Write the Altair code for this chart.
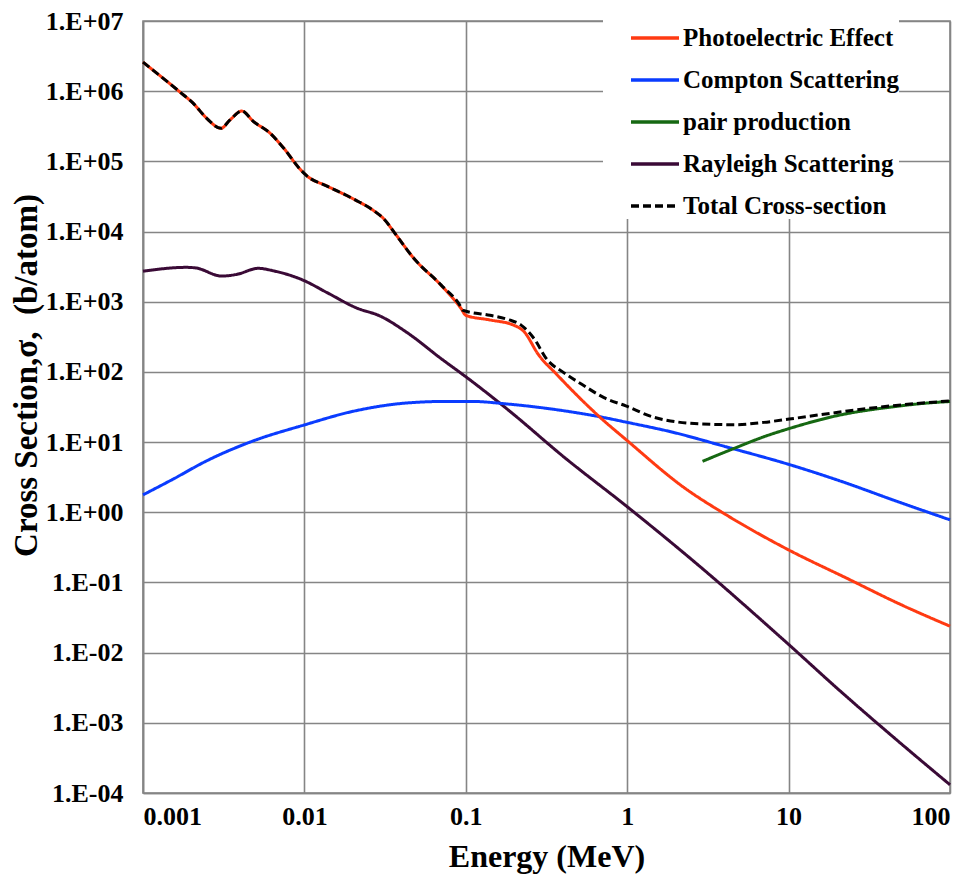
import altair as alt
import pandas as pd

SERIES = ["Photoelectric Effect", "Compton Scattering", "pair production",
          "Rayleigh Scattering", "Total Cross-section"]
COLORS = ["#ff3a12", "#0a3cff", "#166812", "#3a0a36", "#000000"]

photo_E = [0.001, 0.00169, 0.00205, 0.00248, 0.00304, 0.00346, 0.00409, 0.00484,
           0.00614, 0.00743, 0.00944, 0.0104, 0.0138, 0.0203, 0.0270, 0.0312,
           0.0360, 0.0479, 0.0702, 0.0935, 0.1, 0.141, 0.196, 0.229, 0.282,
           0.366, 0.681, 1.0, 2.22, 4.13, 10, 22.9, 49.0, 100]
photo_S = [2.59e6, 9.77e5, 6.70e5, 4.11e5, 2.96e5, 3.89e5, 5.21e5, 3.69e5,
           2.51e5, 1.55e5, 7.66e4, 6.17e4, 4.45e4, 2.88e4, 1.97e4, 1.50e4,
           9.75e3, 4.09e3, 1.72e3, 800, 640, 550, 468, 377, 176,
           92, 22.4, 10.5, 2.30, 0.912, 0.291, 0.115, 0.049, 0.0238]

compton_E = [0.001, 0.00153, 0.00247, 0.00482, 0.00986, 0.0201, 0.0433, 0.0771,
             0.107, 0.186, 0.407, 0.681, 1.0, 1.92, 4.19, 10, 20.8, 49.0, 100]
compton_S = [1.77, 2.95, 5.38, 10.4, 17.4, 27.5, 36.1, 38.0,
             38.0, 34.7, 27.9, 22.9, 19.1, 13.8, 8.45, 4.82, 2.80, 1.38, 0.78]

pair_E = [2.93, 4.54, 7.31, 10, 19.8, 43.2, 84.7, 100]
pair_S = [5.32, 8.04, 12.3, 15.5, 23.7, 31.6, 37.0, 37.8]

rayleigh_E = [0.001, 0.00186, 0.00214, 0.00307, 0.0038, 0.00518, 0.00646, 0.00986,
              0.0138, 0.0211, 0.0295, 0.0433, 0.0697, 0.107, 0.186, 0.406, 1.0,
              2.82, 10, 20.8, 49.0, 100]
rayleigh_S = [2720, 3090, 3020, 2320, 2450, 2990, 2750, 2020,
              1350, 813, 624, 363, 157, 75.9, 27.9, 6.11, 1.20,
              0.169, 0.0131, 0.00286, 0.00052, 0.000131]

total_E = [0.001, 0.00169, 0.00205, 0.00248, 0.00304, 0.00346, 0.00409, 0.00484,
           0.00614, 0.00743, 0.00944, 0.0104, 0.0138, 0.0203, 0.0270, 0.0312,
           0.0360, 0.0479, 0.0702, 0.0935, 0.0955, 0.141, 0.186, 0.219, 0.268,
           0.313, 0.406, 0.526, 0.718, 0.98, 1.48, 2.91, 4.65, 7.03, 10.1,
           19.8, 43.2, 100]
total_S = [2.59e6, 9.77e5, 6.70e5, 4.11e5, 2.96e5, 3.89e5, 5.21e5, 3.69e5,
           2.51e5, 1.55e5, 7.66e4, 6.17e4, 4.45e4, 2.88e4, 1.97e4, 1.50e4,
           9.75e3, 4.09e3, 1.74e3, 830, 760, 640, 550, 468, 287,
           158, 97, 66, 43, 32.8, 22.4, 18.1, 17.7, 19.1, 21.3,
           26.4, 32.8, 38.6]

rows = []
for name, E, S in [(SERIES[0], photo_E, photo_S), (SERIES[1], compton_E, compton_S),
                   (SERIES[2], pair_E, pair_S), (SERIES[3], rayleigh_E, rayleigh_S),
                   (SERIES[4], total_E, total_S)]:
    for e, s in zip(E, S):
        rows.append({"series": name, "E": e, "sigma": s})
df = pd.DataFrame(rows)

FONT = "Liberation Serif"

x = alt.X("E:Q", scale=alt.Scale(type="log", domain=[0.001, 100], nice=False),
          axis=alt.Axis(title="Energy (MeV)", values=[0.001, 0.01, 0.1, 1, 10, 100],
                        labelExpr="format(datum.value, '~g')", grid=True,
                        ticks=False, labelPadding=10, titlePadding=12))
y = alt.Y("sigma:Q", scale=alt.Scale(type="log", domain=[1e-4, 1e7], nice=False),
          axis=alt.Axis(title="Cross Section,σ,\u00a0\u00a0(b/atom)",
                        values=[1e-4, 1e-3, 1e-2, 1e-1, 1, 10, 1e2, 1e3, 1e4, 1e5, 1e6, 1e7],
                        labelExpr="'1.E' + (datum.value >= 1 ? '+' : '-') + (abs(round(log(datum.value)/LN10)) < 10 ? '0' : '') + abs(round(log(datum.value)/LN10))",
                        grid=True, ticks=False, labelPadding=20, titlePadding=2,
                        titleY=354, titleFontSize=33))

color = alt.Color("series:N", scale=alt.Scale(domain=SERIES, range=COLORS),
                  legend=alt.Legend(title=None, orient="none", legendX=460, legendY=-9,
                                    fillColor="white", padding=0, symbolType="stroke",
                                    symbolSize=2304, symbolStrokeWidth=3.5,
                                    symbolOffset=26,
                                    labelFont=FONT, labelFontWeight="bold",
                                    labelFontSize=25, labelColor="black",
                                    labelOffset=2, rowPadding=3, labelLimit=400))
dash = alt.StrokeDash("series:N", scale=alt.Scale(domain=SERIES,
                      range=[[1, 0], [1, 0], [1, 0], [1, 0], [8, 4]]),
                      legend=alt.Legend(title=None))

layers = []
for name in [SERIES[3], SERIES[1], SERIES[2], SERIES[0], SERIES[4]]:
    layers.append(
        alt.Chart(df).transform_filter(alt.datum.series == name)
        .mark_line(interpolate="monotone", strokeWidth=3)
        .encode(x=x, y=y, color=color, strokeDash=dash, order="E:Q")
    )

chart = alt.layer(*layers).properties(
    width=807, height=772,
    autosize=alt.AutoSizeParams(type="none"),
    padding={"left": 135, "top": 13, "right": 15, "bottom": 85},
).configure_axis(
    labelFont=FONT, labelFontWeight="bold", labelFontSize=26, labelColor="black",
    titleFont=FONT, titleFontWeight="bold", titleFontSize=32, titleColor="black",
    gridColor="#858585", gridWidth=1.6, domainColor="#858585", domainWidth=1.6,
).configure_view(stroke="#858585", strokeWidth=1.6)

chart.save("out.html", embed_options={"renderer": "svg", "actions": False})
